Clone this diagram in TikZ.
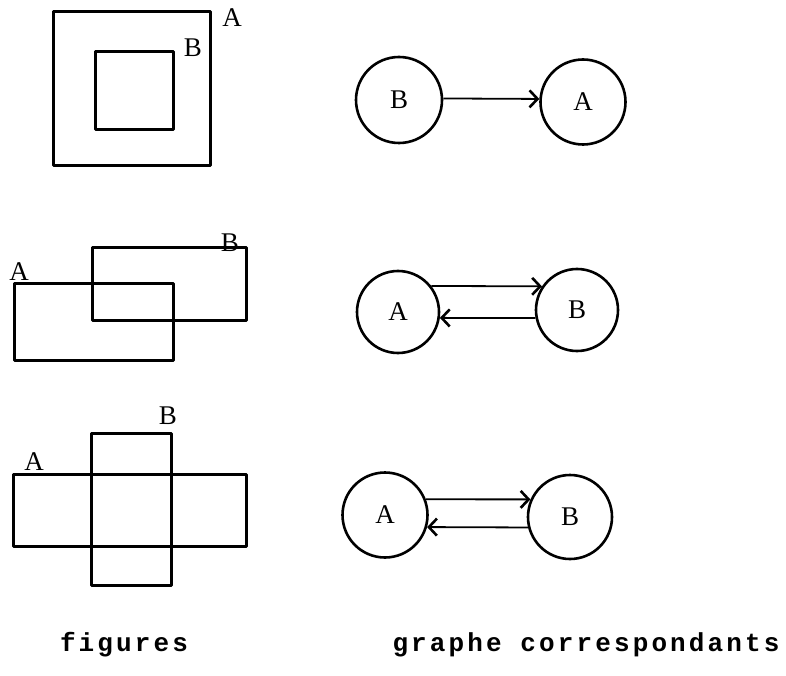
\documentclass[tikz,border=0pt]{standalone}
\usepackage{fontspec}
\usetikzlibrary{arrows.meta}
\newfontfamily\capfont[LetterSpace=12]{Liberation Mono}
\newfontfamily\lblfont{Liberation Serif}
\begin{document}
\begin{tikzpicture}[x=1pt,y=-1pt,
  fig/.style={line width=3pt, line join=round},
  lbl/.style={inner sep=0pt, font=\lblfont\fontsize{27}{30}\selectfont},
  circ/.style={circle, draw, line width=2.6pt, inner sep=0pt, font=\lblfont\fontsize{27}{30}\selectfont},
  arr/.style={line width=1.8pt, -{Straight Barb[length=8pt,width=17pt,line width=2.6pt]}},
  captxt/.style={inner sep=0pt, font=\capfont\bfseries\fontsize{26}{30}\selectfont}]
\useasboundingbox (0,0) rectangle (786,676);
\fill[white] (0,0) rectangle (786,676);

% figure 1
\draw[fig] (53,12) rectangle (210,166);
\draw[fig] (95,52) rectangle (173,130);
\node[lbl] (fA1) at (232,18) {A};
\node[lbl] (fB1) at (193,48) {B};

% figure 2
\draw[fig] (92,247) rectangle (246,320);
\draw[fig] (14,283) rectangle (173,360);
\node[lbl] (fA2) at (19,272) {A};
\node[lbl] (fB2) at (230,243) {B};

% figure 3
\draw[fig] (13,474) rectangle (246,546);
\draw[fig] (91,433) rectangle (171,585);
\node[lbl] (fA3) at (34,462) {A};
\node[lbl] (fB3) at (168,416) {B};

% graph 1
\node[circ, minimum size=86pt] (b1) at (399,100) {B};
\node[circ, minimum size=85pt] (a1) at (583,102) {A};
\draw[arr] (b1.2) -- (a1.176);

% graph 2
\node[circ, minimum size=82pt] (a2) at (398,312) {A};
\node[circ, minimum size=82pt] (b2) at (577,310) {B};
\draw[arr] (a2.38) -- (b2.146);
\draw[arr] (b2.191) -- (a2.352);

% graph 3
\node[circ, minimum size=85pt] (a3) at (385,515) {A};
\node[circ, minimum size=84pt] (b3) at (570,517) {B};
\draw[arr] (a3.21) -- (b3.156);
\draw[arr] (b3.194) -- (a3.344);

% captions
\node[captxt] (c1) at (124,645) {figures};
\node[captxt] (c2) at (586,645) {graphe correspondants};
\end{tikzpicture}
\end{document}
